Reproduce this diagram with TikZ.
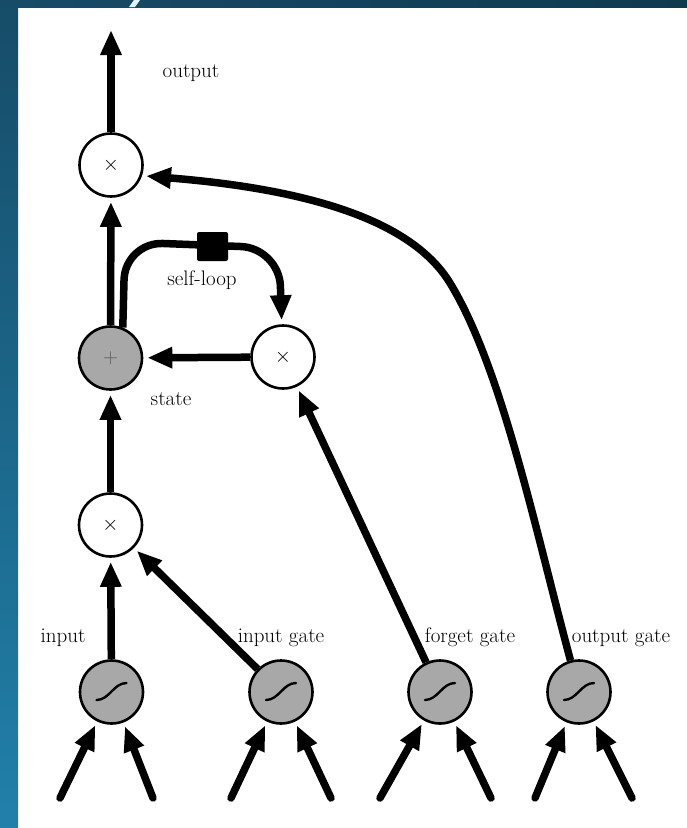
\documentclass[tikz,border=0pt]{standalone}
\usepackage{fontspec}
\usetikzlibrary{arrows.meta}
\pgfdeclarelayer{backdrop}
\pgfdeclarelayer{edges}
\pgfsetlayers{backdrop,edges,main}
\definecolor{gatefill}{RGB}{168,168,168}
\definecolor{bgtop}{RGB}{22,76,104}
\definecolor{bgbot}{RGB}{33,128,170}
\definecolor{bgright}{RGB}{14,58,80}

\begin{document}
\begin{tikzpicture}[x=1pt,y=-1pt,
  lbl/.style={font=\fontsize{21}{25}\selectfont, inner sep=0pt, anchor=base},
  unit/.style={circle, draw=black, line width=2.6pt, minimum size=63pt,
    inner sep=0pt, font=\fontsize{21}{25}\selectfont},
  mult/.style={unit, fill=white},
  sumnode/.style={unit, fill=gatefill},
  gate/.style={unit, fill=gatefill},
  arr/.style={line width=7.5pt, -{Triangle[length=25pt,width=20pt]}, shorten >=4pt},
  tail/.style={arr, line cap=round},
  sqbox/.style={fill=black, minimum width=31pt, minimum height=29pt,
    inner sep=0pt, rounded corners=2pt},
  sigm/.style={line width=2.4pt, line cap=round},
]
% page and frame
\useasboundingbox (0,0) rectangle (687,828);
\begin{pgfonlayer}{backdrop}
  \fill[white] (0,0) rectangle (687,828);
  \shade[top color=bgtop, bottom color=bgbot] (0,0) rectangle (18,828);
  \shade[left color=bgtop, right color=bgright] (18,0) rectangle (687,7);
  \fill[white!88!cyan] (134,0) -- (140,0) -- (135,7) -- (129,7) -- cycle;
\end{pgfonlayer}

% units
\node[mult] (mtop) at (111,165) {$\times$};
\node[sumnode] (plus) at (110.5,358) {\textcolor{black!65}{$+$}};
\node[mult] (mf) at (283,357) {$\times$};
\node[mult] (mb) at (110.5,525) {$\times$};
\node[gate] (gin) at (111.5,692) {};
\node[gate] (gig) at (281,692) {};
\node[gate] (gfg) at (440,692) {};
\node[gate] (gog) at (579,692) {};
\node[sqbox] (sq) at (212.5,246.5) {};

% sigmoid glyphs
\foreach \g in {gin,gig,gfg,gog}
  \draw[sigm] ([shift={(-15,8)}]\g.center) .. controls +(13,0) and +(-13,0) .. ([shift={(15,-9)}]\g.center);

% labels
\node[lbl] at (191,77) {output};
\node[lbl] at (202,285) {self-loop};
\node[lbl] at (171,405) {state};
\node[lbl] at (63,642) {input};
\node[lbl] at (281,642) {input gate};
\node[lbl] at (470,642) {forget gate};
\node[lbl] at (621,642) {output gate};

% free ends
\coordinate (otip) at (111,26);
\coordinate (bend) at (450,283);
\coordinate (a1) at (60,798);  \coordinate (b1) at (153,798);
\coordinate (a2) at (231,798); \coordinate (b2) at (331,798);
\coordinate (a3) at (380,798); \coordinate (b3) at (491,798);
\coordinate (a4) at (535,798); \coordinate (b4) at (632,798);

\begin{pgfonlayer}{edges}
  \draw[arr] (mtop) -- (otip);
  \draw[arr] (plus) -- (mtop);
  \draw[arr] (mf) -- (plus);
  \draw[arr] (mb) -- (plus);
  \draw[arr] (gin) -- (mb);
  \draw[arr] (gig) -- (mb);
  \draw[arr] (gfg) -- (mf);
  \draw[arr] (gog) .. controls (535.6,531) and (502,368) .. (bend)
                   .. controls (413.6,223.5) and (318,190) .. (mtop.-19);
  \draw[arr, rounded corners=38pt] (plus.68) -- (125,242) -- (279,248) -- (mf);
  \draw[tail] (a1) -- (gin); \draw[tail] (b1) -- (gin);
  \draw[tail] (a2) -- (gig); \draw[tail] (b2) -- (gig);
  \draw[tail] (a3) -- (gfg); \draw[tail] (b3) -- (gfg);
  \draw[tail] (a4) -- (gog); \draw[tail] (b4) -- (gog);
\end{pgfonlayer}
\end{tikzpicture}
\end{document}
